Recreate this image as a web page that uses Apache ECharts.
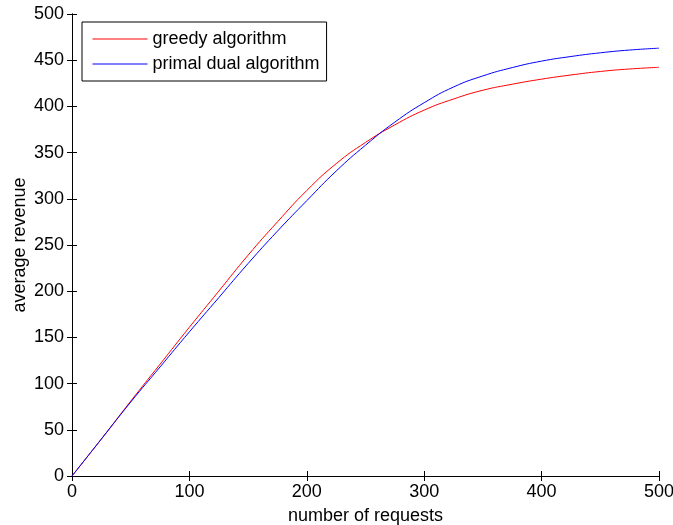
<!DOCTYPE html>
<html><head><meta charset="utf-8">
<script src="https://cdn.jsdelivr.net/npm/echarts@6/dist/echarts.min.js"></script>
<style>html,body{margin:0;padding:0;background:#fff}#c{width:673px;height:525px}</style>
</head><body><div id="c"></div>
<script>
const requests = [0,25,50,75,100,125,150,175,200,225,250,275,300,325,350,375,400,425,450,475,500];
const greedy = [0,40,81,121,161,200,239,275,309,338,361,380,396,408,417.5,424,429.5,434,437.8,440.5,442.3];
const primalDual = [0,40,80,118,156,193,230,265,298,330,358,383,404,421,433,442,449,454,458,461,463];
const xTicks = [0,100,200,300,400,500];
const yTicks = [0,50,100,150,200,250,300,350,400,450,500];
const seriesNames = ['greedy algorithm','primal dual algorithm'];

const font = 'Liberation Sans, Arial, Helvetica, sans-serif';
const fs = 18;
const chart = echarts.init(document.getElementById('c'));
const tick = {show:true, inside:true, length:5, lineStyle:{color:'#000', width:1}};
const line = {show:true, lineStyle:{color:'#000', width:1}};
chart.setOption({
  animation:false,
  grid:{left:72, right:14, top:14, bottom:49, containLabel:false, outerBoundsMode:'none'},
  legend:{
    orient:'vertical', left:82, top:22,
    data:seriesNames,
    itemWidth:55, itemHeight:14, itemGap:7,
    padding:[8,7,8,10],
    itemStyle:{opacity:0},
    lineStyle:{width:1},
    borderColor:'#000', borderWidth:1, backgroundColor:'#fff',
    textStyle:{fontFamily:font, fontSize:fs, color:'#000'}
  },
  xAxis:[{
    type:'value', min:0, max:500, interval:100,
    name:'number of requests', nameLocation:'middle', nameGap:31, nameMoveOverlap:false,
    nameTextStyle:{fontFamily:font, fontSize:fs, color:'#000'},
    axisLine:line, axisTick:tick, splitLine:{show:false},
    axisLabel:{fontFamily:font, fontSize:fs, color:'#000', margin:7}
  },{
    type:'value', min:0, max:500, interval:100, position:'top',
    axisLine:line, axisTick:tick, splitLine:{show:false}, axisLabel:{show:false}
  }],
  yAxis:[{
    type:'value', min:0, max:500, interval:50,
    name:'average revenue', nameLocation:'middle', nameGap:43, nameRotate:90, nameMoveOverlap:false,
    nameTextStyle:{fontFamily:font, fontSize:fs, color:'#000'},
    axisLine:line, axisTick:tick, splitLine:{show:false},
    axisLabel:{fontFamily:font, fontSize:fs, color:'#000', margin:8}
  },{
    type:'value', min:0, max:500, interval:50, position:'right',
    axisLine:line, axisTick:tick, splitLine:{show:false}, axisLabel:{show:false}
  }],
  series:[
    {name:seriesNames[0], type:'line', smooth:true, symbol:'none',
     lineStyle:{color:'#ff0000', width:1}, itemStyle:{color:'#ff0000'},
     data:requests.map((x,i)=>[x,greedy[i]])},
    {name:seriesNames[1], type:'line', smooth:true, symbol:'none',
     lineStyle:{color:'#0000ff', width:1}, itemStyle:{color:'#0000ff'},
     data:requests.map((x,i)=>[x,primalDual[i]])}
  ]
});
</script></body></html>
